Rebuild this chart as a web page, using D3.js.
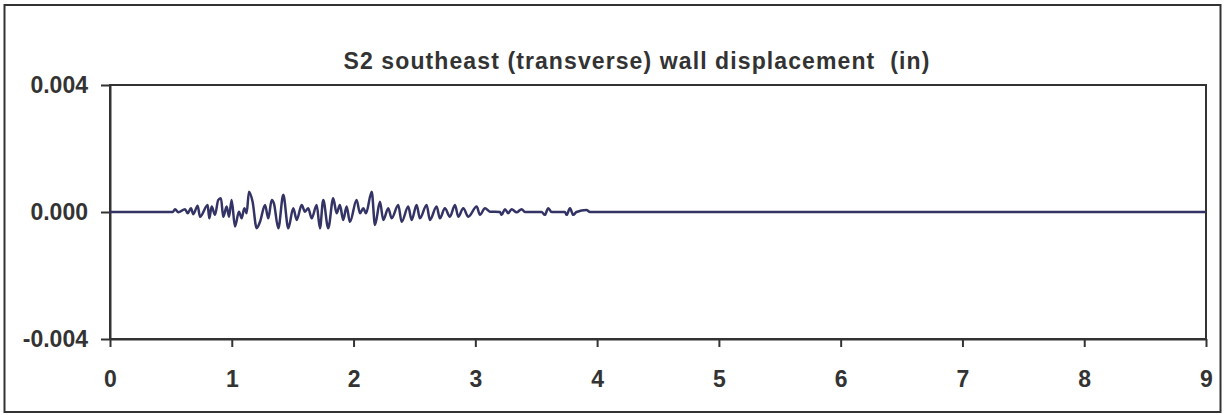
<!DOCTYPE html>
<html>
<head>
<meta charset="utf-8">
<script src="https://cdn.jsdelivr.net/npm/d3@7"></script>
<style>
  body { margin: 0; background: #fff; }
  svg { display: block; font-family: "Liberation Sans", Arial, sans-serif; }
</style>
</head>
<body>
<div id="chart"></div>
<script>
const width = 1225, height = 415;
const margin = {top: 85, right: 19, bottom: 76, left: 110};
const innerWidth = width - margin.left - margin.right;
const innerHeight = height - margin.top - margin.bottom;

const titleText = "S2 southeast (transverse) wall displacement  (in)";
const xTicks = [0, 1, 2, 3, 4, 5, 6, 7, 8, 9];
const yTicks = [-0.004, 0, 0.004];

// time (s)
const times = [
  0, 0.517, 0.534, 0.561, 0.616, 0.638, 0.665, 0.684, 0.720, 0.739,
  0.802, 0.815, 0.835, 0.862, 0.889, 0.911, 0.930, 0.958, 0.977, 0.999,
  1.026, 1.059, 1.081, 1.103, 1.122, 1.141, 1.171, 1.204, 1.232, 1.273,
  1.300, 1.328, 1.346, 1.382, 1.423, 1.464, 1.505, 1.533, 1.574, 1.601,
  1.628, 1.656, 1.697, 1.724, 1.751, 1.792, 1.833, 1.861, 1.888, 1.915,
  1.943, 1.970, 2.025, 2.053, 2.080, 2.102, 2.149, 2.176, 2.217, 2.244,
  2.285, 2.313, 2.367, 2.395, 2.449, 2.477, 2.518, 2.545, 2.600, 2.627,
  2.682, 2.709, 2.750, 2.791, 2.833, 2.860, 2.901, 2.942, 3.011, 3.038,
  3.079, 3.120, 3.202, 3.216, 3.243, 3.270, 3.298, 3.339, 3.380, 3.407,
  3.544, 3.571, 3.599, 3.626, 3.735, 3.750, 3.777, 3.804, 3.831, 3.913,
  3.941, 9
];
// displacement (in)
const displacement = [
  0, 0, 0.00009, -0.00001, 0.00009, -0.00004, 0.00012, -0.00007, 0.00020, -0.00015,
  0.00022, -0.00020, 0.00017, -0.00009, 0.00038, 0.00043, -0.00015, 0.00017, -0.00015, 0.00038,
  -0.00046, 0.00001, -0.00020, 0.00012, -0.00004, 0.00064, 0.00032, -0.00051, -0.00031, 0.00022,
  -0.00020, 0.00038, 0.00027, -0.00051, 0.00054, -0.00051, 0.00012, -0.00025, 0.00022, 0.00001,
  0.00012, -0.00020, 0.00022, -0.00051, 0.00038, -0.00051, 0.00043, -0.00004, 0.00022, -0.00025,
  0.00017, -0.00031, 0.00038, -0.00004, 0.00012, -0.00004, 0.00064, -0.00041, 0.00032, -0.00025,
  0.00012, -0.00020, 0.00022, -0.00031, 0.00017, -0.00025, 0.00022, -0.00020, 0.00022, -0.00025,
  0.00017, -0.00020, 0.00012, -0.00015, 0.00022, -0.00015, 0.00012, -0.00015, 0.00017, -0.00009,
  0.00012, 0.00001, 0, -0.00009, 0.00009, -0.00004, 0.00009, -0.00001, 0.00009, 0,
  0, -0.00009, 0.00012, 0, 0, -0.00009, 0.00012, -0.00009, 0, 0.00006,
  0, 0
];

const data = times.map((t, i) => ({t: t, v: displacement[i]}));

const svg = d3.select("#chart")
  .append("svg")
    .attr("width", width)
    .attr("height", height)
    .attr("viewBox", [0, 0, width, height]);

// outer chart border
svg.append("rect")
  .attr("x", 4.5)
  .attr("y", 5)
  .attr("width", 1216)
  .attr("height", 407)
  .attr("fill", "none")
  .attr("stroke", "#333")
  .attr("stroke-width", 2);

svg.append("text")
  .attr("x", 637)
  .attr("y", 69)
  .attr("text-anchor", "middle")
  .attr("font-size", "23px")
  .attr("font-weight", "bold")
  .attr("letter-spacing", "1.1px")
  .attr("fill", "#333")
  .style("white-space", "pre")
  .text(titleText);

const xScale = d3.scaleLinear()
  .domain([0, 9])
  .range([0, innerWidth]);
const yScale = d3.scaleLinear()
  .domain([-0.004, 0.004])
  .range([innerHeight, 0]);

const inner = svg.append("g")
  .attr("transform", `translate(${margin.left}, ${margin.top})`);

// plot area frame
inner.append("rect")
  .attr("width", innerWidth)
  .attr("height", innerHeight)
  .attr("fill", "none")
  .attr("stroke", "#333")
  .attr("stroke-width", 2);

const bottomAxis = d3.axisBottom(xScale)
  .tickValues(xTicks)
  .tickSize(8)
  .tickPadding(24)
  .tickSizeOuter(0);
inner.append("g")
  .attr("class", "axis axis-x")
  .attr("transform", `translate(0, ${innerHeight})`)
  .call(bottomAxis);

const leftAxis = d3.axisLeft(yScale)
  .tickValues(yTicks)
  .tickSize(9)
  .tickPadding(13)
  .tickSizeOuter(0)
  .tickFormat(d => d.toFixed(3));
inner.append("g")
  .attr("class", "axis axis-y")
  .call(leftAxis);

inner.selectAll(".axis path, .axis line")
  .attr("stroke", "#333")
  .attr("stroke-width", 2);
inner.selectAll(".axis text")
  .attr("font-family", "Liberation Sans, Arial, sans-serif")
  .attr("font-size", "23px")
  .attr("font-weight", "bold")
  .attr("fill", "#333");

const line = d3.line()
  .x(d => xScale(d.t))
  .y(d => yScale(d.v))
  .curve(d3.curveMonotoneX);

inner.append("path")
  .datum(data)
  .attr("fill", "none")
  .attr("stroke", "#333366")
  .attr("stroke-width", 2.5)
  .attr("d", line);
</script>
</body>
</html>
